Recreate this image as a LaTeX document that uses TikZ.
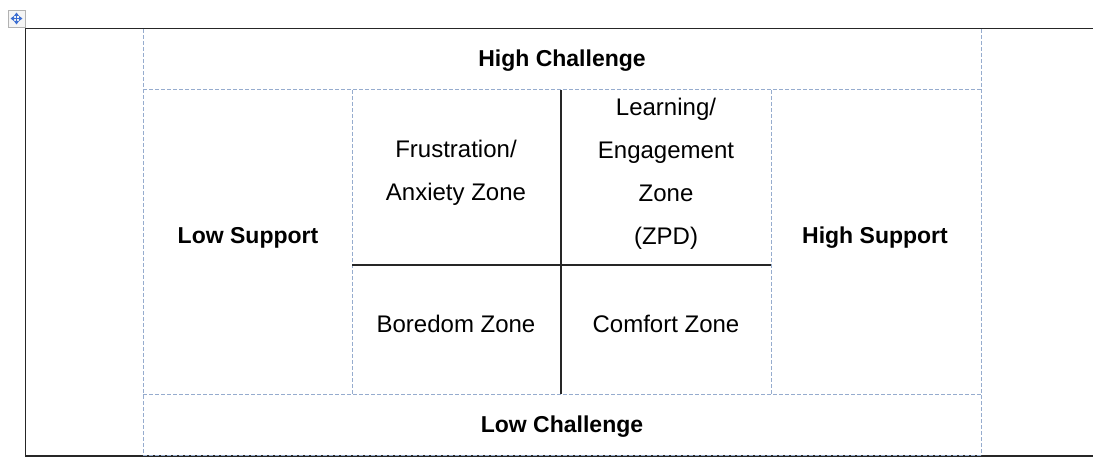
\documentclass[tikz,border=0pt]{standalone}
\usepackage{fontspec}
\setmainfont{Liberation Sans}
\usepackage{tikz}
\usetikzlibrary{calc,positioning,arrows.meta}
\definecolor{gridblue}{RGB}{150,172,206}
\definecolor{handleblue}{RGB}{60,110,210}

\begin{document}
\begin{tikzpicture}[x=1pt,y=-1pt,
  grid/.style={draw=gridblue,line width=1pt,dash pattern=on 4pt off 2pt},
  frame/.style={draw=black!85,line width=1.6pt},
  cut/.style={draw=black!85,line width=1.1pt},
  cell/.style={align=center,inner sep=0pt,font=\fontsize{24}{43}\selectfont},
  head/.style={cell,font=\fontsize{23}{43}\selectfont\bfseries},
  move/.style={handleblue,line width=1.3pt,-{Triangle[length=3.5pt,width=5pt]}}]
\useasboundingbox (0,0) rectangle (1093,457);

% table handle
\draw[draw=black!30,fill=black!4,line width=0.8pt] (8,10) rectangle (25,27);
\coordinate (mid) at (16.5,18.5);
\foreach \dx/\dy in {-6/0,6/0,0/-6,0/6} \draw[move] (mid) -- ++(\dx,\dy);

% outer frame
\draw[frame] (1093,28.5) -- (25.5,28.5) -- (25.5,457);
\draw[frame] (25.5,456) -- (1093,456);

% dashed cell borders
\foreach \x in {143,981} \draw[grid] (\x,29) -- (\x,455);
\foreach \x in {352,771} \draw[grid] (\x,90) -- (\x,394);
\foreach \y in {90,394,455} \draw[grid] (143,\y) -- (981,\y);

% zone borders
\draw[cut] (352,265) -- (771,265);
\draw[cut] (561,90) -- (561,394);

\node[head] (hc) at (562,61) {High Challenge};
\node[head] (lc) at (562,427) {Low Challenge};
\node[head] (ls) at (248,237.5) {Low Support};
\node[head] (hs) at (875,237.5) {High Support};

\node[cell] (fz) at (456,173) {Frustration/\\Anxiety Zone};
\node[cell] (lz) at (666,174) {Learning/\\Engagement\\Zone\\(ZPD)};
\node[cell] (bz) at (456,324) {Boredom Zone};
\node[cell] (cz) at (666,324) {Comfort Zone};
\end{tikzpicture}
\end{document}
